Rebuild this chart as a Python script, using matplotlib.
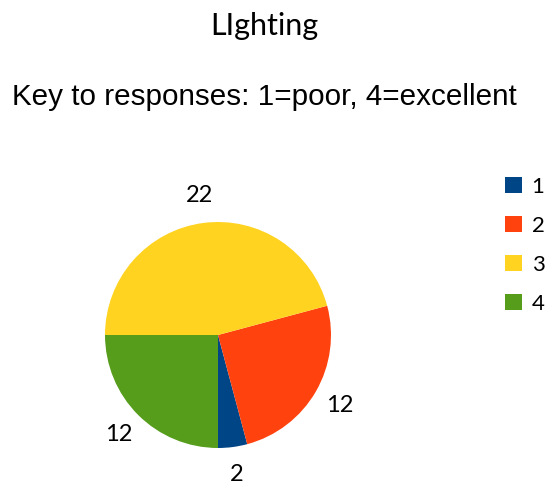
import matplotlib.pyplot as plt

# Responses for the "Lighting" question
categories = ['1', '2', '3', '4']
counts = [2, 12, 22, 12]
colors = ['#004586', '#ff420e', '#ffd320', '#579d1c']

dpi = 100
fig = plt.figure(figsize=(559 / dpi, 484 / dpi), dpi=dpi)

# Pie axes placed so the pie sits left-of-centre like the original
ax = fig.add_axes([105 / 559, 1 - 448 / 484, 226 / 559, 226 / 484])

wedges, texts = ax.pie(counts, labels=[str(c) for c in counts], colors=colors,
                       startangle=-90, counterclock=True, labeldistance=1.245,
                       textprops=dict(family='Lato', size=17))
# value labels are centred on their spot, not pushed outward
for t in texts:
    t.set_ha('center')
    t.set_va('center')
ax.set_xlim(-1, 1)
ax.set_ylim(-1, 1)
ax.set_aspect('equal')

fig.text(264 / 559, 1 - 35 / 484, 'LIghting', ha='center', va='baseline',
         family='Lato', size=22)
fig.text(12 / 559, 1 - 97 / 484, 'Key to responses: 1=poor, 4=excellent',
         ha='left', va='center', family='Liberation Sans', size=21.3)

leg = fig.legend(wedges, categories, loc='upper left',
                 bbox_to_anchor=(505 / 559, 1 - 177 / 484), frameon=False,
                 prop=dict(family='Lato', size=16), handlelength=0.75,
                 handleheight=0.75, handletextpad=0.45, labelspacing=0.85,
                 borderaxespad=0, borderpad=0)

fig.savefig('out.png', dpi=dpi)
